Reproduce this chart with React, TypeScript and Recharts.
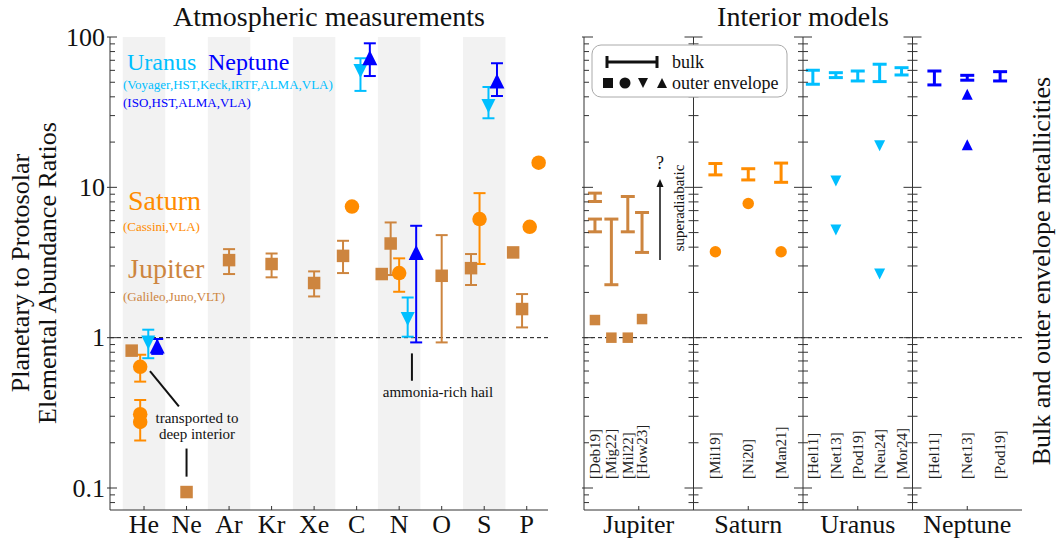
import React from 'react';
import {
  ComposedChart, Scatter, ErrorBar, XAxis, YAxis, ReferenceArea, ReferenceLine,
} from 'recharts';

const FONT = '"Liberation Serif", "Times New Roman", serif';
const JUP = '#CD853F';
const SAT = '#FF8C00';
const URA = '#00BFFF';
const NEP = '#0000FF';
const AXIS = '#333';

// ---- atmospheric measurements ----
const ELEMENTS = ['He', 'Ne', 'Ar', 'Kr', 'Xe', 'C', 'N', 'O', 'S', 'P'];
const SHADED = ['He', 'Ar', 'Xe', 'N', 'S'];

// [element, offset within the element column, value, low, high]
type Meas = [string, number, number, number?, number?];

const jupiterAtm: Meas[] = [
  ['He', -0.29, 0.82],
  ['Ne', 0, 0.094],
  ['Ar', 0, 3.28, 2.65, 3.88],
  ['Kr', 0, 3.09, 2.52, 3.63],
  ['Xe', 0, 2.31, 1.88, 2.76],
  ['C', -0.32, 3.5, 2.69, 4.41],
  ['N', -0.41, 2.65],
  ['N', -0.2, 4.23, 2.61, 5.84],
  ['O', 0, 2.58, 0.93, 4.81],
  ['S', -0.31, 2.9, 2.24, 3.6],
  ['P', -0.32, 3.69],
  ['P', -0.11, 1.55, 1.17, 1.95],
];

const saturnAtm: Meas[] = [
  ['He', -0.09, 0.64, 0.51, 0.77],
  ['He', -0.09, 0.31, 0.207, 0.385],
  ['He', -0.09, 0.275],
  ['C', -0.11, 7.45],
  ['N', 0, 2.69, 2.02, 3.37],
  ['S', -0.11, 6.15, 3.09, 9.15],
  ['P', 0.07, 5.46],
  ['P', 0.28, 14.6],
];

const uranusAtm: Meas[] = [
  ['He', 0.1, 0.93, 0.73, 1.13],
  ['C', 0.09, 59.4, 43.8, 72.2],
  ['N', 0.2, 1.33, 1.015, 1.85],
  ['S', 0.1, 34.8, 28.8, 46.5],
];

const neptuneAtm: Meas[] = [
  ['He', 0.31, 0.88, 0.78, 0.98],
  ['C', 0.31, 72.8, 55, 90.8],
  ['N', 0.4, 3.69, 0.93, 5.55],
  ['S', 0.3, 51, 40.5, 66.9],
];

// ---- interior models ----
const PLANETS = ['Jupiter', 'Saturn', 'Uranus', 'Neptune'];
const MODEL_REFS: [string, string, number][] = [
  ['Jupiter', 'Deb19', 0.1], ['Jupiter', 'Mig22', 0.25], ['Jupiter', 'Mil22', 0.4], ['Jupiter', 'How23', 0.53],
  ['Saturn', 'Mil19', 0.2], ['Saturn', 'Ni20', 0.5], ['Saturn', 'Man21', 0.8],
  ['Uranus', 'Hel11', 0.09], ['Uranus', 'Net13', 0.3], ['Uranus', 'Pod19', 0.5], ['Uranus', 'Neu24', 0.7], ['Uranus', 'Mor24', 0.9],
  ['Neptune', 'Hel11', 0.2], ['Neptune', 'Net13', 0.5], ['Neptune', 'Pod19', 0.8],
];

// bulk: [ref, low, high]   envelope: [ref, value]
const jupiterBulk: [string, number, number][] = [
  ['Deb19', 8.05, 9.15], ['Deb19', 5.06, 6.15], ['Mig22', 2.25, 6.15], ['Mil22', 5.06, 8.69], ['How23', 3.69, 6.8],
];
const jupiterEnv: [string, number][] = [['Deb19', 1.31], ['Mig22', 1.0], ['Mil22', 1.0], ['How23', 1.33]];
const saturnBulk: [string, number, number][] = [['Mil19', 12.1, 14.4], ['Ni20', 11.2, 13.3], ['Man21', 10.8, 14.5]];
const saturnEnv: [string, number][] = [['Mil19', 3.73], ['Ni20', 7.8], ['Man21', 3.73]];
const uranusBulk: [string, number, number][] = [
  ['Hel11', 48.5, 60.1], ['Net13', 53.7, 57.9], ['Pod19', 51, 59.4], ['Neu24', 50.5, 65.9], ['Mor24', 55.9, 62.5],
];
const uranusEnv: [string, number][] = [['Net13', 11.0], ['Net13', 5.2], ['Neu24', 18.9], ['Neu24', 2.65]];
const neptuneBulk: [string, number, number][] = [['Hel11', 48, 59.4], ['Net13', 51.6, 55.6], ['Pod19', 51, 58.8]];
const neptuneEnv: [string, number][] = [['Net13', 41.6], ['Net13', 19.2]];

const MAJOR_TICKS = [0.1, 1, 10, 100];
const Y_TICKS = [
  0.08, 0.09, 0.1, 0.2, 0.3, 0.4, 0.5, 0.6, 0.7, 0.8, 0.9,
  1, 2, 3, 4, 5, 6, 7, 8, 9, 10, 20, 30, 40, 50, 60, 70, 80, 90, 100,
];
const Y_DOMAIN: [number, number] = [0.0714, 100];
const REF_LABEL_Y = 0.115;

const toAtm = (rows: Meas[]) =>
  rows.map(([el, dx, v, lo, hi]) => ({
    x: ELEMENTS.indexOf(el) + dx,
    y: v,
    err: lo != null && hi != null ? [v - lo, hi - v] : null,
  }));

const refX = (planet: string, ref: string) => {
  const r = MODEL_REFS.find((m) => m[0] === planet && m[1] === ref)!;
  return PLANETS.indexOf(planet) + r[2];
};
const toBulk = (planet: string, rows: [string, number, number][]) =>
  rows.map(([ref, lo, hi]) => ({ x: refX(planet, ref), y: lo, err: [0, hi - lo] }));
const toEnv = (planet: string, rows: [string, number][]) =>
  rows.map(([ref, v]) => ({ x: refX(planet, ref), y: v }));

// ---- marker shapes ----
const square = (s: number, fill: string) => (p: any) => (
  <rect x={p.cx - s / 2} y={p.cy - s / 2} width={s} height={s} fill={fill} />
);
const dot = (d: number, fill: string) => (p: any) => <circle cx={p.cx} cy={p.cy} r={d / 2} fill={fill} />;
const triDown = (w: number, fill: string) => (p: any) => (
  <polygon points={`${p.cx - w / 2},${p.cy - w / 2} ${p.cx + w / 2},${p.cy - w / 2} ${p.cx},${p.cy + w / 2}`} fill={fill} />
);
const triUp = (w: number, fill: string) => (p: any) => (
  <polygon points={`${p.cx - w / 2},${p.cy + w / 2} ${p.cx + w / 2},${p.cy + w / 2} ${p.cx},${p.cy - w / 2}`} fill={fill} />
);
const nothing = () => <g />;

const isMajor = (v: number) => MAJOR_TICKS.some((m) => Math.abs(v - m) < 1e-9);

// ---- ticks ----
const LeftYTick = (p: any) => {
  const major = isMajor(p.payload.value);
  return (
    <g>
      <line x1={major ? p.x - 3 : p.x} x2={p.x + (major ? 7 : 5)} y1={p.y} y2={p.y} stroke={AXIS} />
      {major && (
        <text x={p.x - 5} y={p.y} textAnchor="end" dominantBaseline="central" fontSize={26} fontFamily={FONT} fill="#111">
          {p.payload.value}
        </text>
      )}
    </g>
  );
};
const RightYTick = (p: any) => {
  const major = isMajor(p.payload.value);
  return <line x1={p.x - (major ? 7 : 4)} x2={major ? p.x + 2 : p.x} y1={p.y} y2={p.y} stroke={AXIS} />;
};
const BottomXTick = (p: any) => (
  <g>
    <line x1={p.x} x2={p.x} y1={p.y - 4} y2={p.y} stroke={AXIS} />
    <text x={p.x} y={p.y + 23} textAnchor="middle" fontSize={26} fontFamily={FONT} fill="#111">
      {ELEMENTS[p.payload.value]}
    </text>
  </g>
);
const TopXTick = (p: any) => <line x1={p.x} x2={p.x} y1={p.y} y2={p.y + 4} stroke={AXIS} />;

const RIGHT_PLOT_W = 438;
const PANEL_W = RIGHT_PLOT_W / 4;
const InteriorLeftTick = (p: any) => {
  const major = isMajor(p.payload.value);
  const out = [
    <line key="e" x1={major ? p.x - 2 : p.x} x2={p.x + (major ? 9 : 5)} y1={p.y} y2={p.y} stroke={AXIS} />,
  ];
  for (let k = 1; k < 4; k++) {
    const xx = p.x + k * PANEL_W;
    out.push(<line key={k} x1={xx - (major ? 9 : 5)} x2={xx + (major ? 9 : 5)} y1={p.y} y2={p.y} stroke={AXIS} />);
  }
  return <g>{out}</g>;
};
const InteriorRightTick = (p: any) => {
  const major = isMajor(p.payload.value);
  return <line x1={p.x - (major ? 9 : 5)} x2={major ? p.x + 2 : p.x} y1={p.y} y2={p.y} stroke={AXIS} />;
};
const InteriorBottomTick = (p: any) => (
  <g>
    <line x1={p.x} x2={p.x} y1={p.y - 4} y2={p.y} stroke={AXIS} />
    <text x={p.x} y={p.y + 23} textAnchor="middle" fontSize={26} fontFamily={FONT} fill="#111">
      {PLANETS[Math.floor(p.payload.value)]}
    </text>
  </g>
);
const RefLabel = (p: any) => (
  <text
    x={p.cx}
    y={p.cy}
    transform={`rotate(-90 ${p.cx} ${p.cy})`}
    textAnchor="start"
    dominantBaseline="central"
    fontSize={15}
    fontFamily={FONT}
    fill="#222"
  >
    [{p.payload.label}]
  </text>
);

const AtmosphereChart = () => (
  <ComposedChart width={560} height={548} margin={{ top: 37, right: 12, bottom: 0, left: 0 }}>
    <XAxis xAxisId="b" type="number" dataKey="x" domain={[-0.8, 9.5]} allowDataOverflow ticks={ELEMENTS.map((_, i) => i)}
      interval={0} height={38} tickSize={0} tickMargin={0} tickLine={false} tick={<BottomXTick />} stroke={AXIS} />
    <XAxis xAxisId="t" orientation="top" type="number" dataKey="x" domain={[-0.8, 9.5]} allowDataOverflow
      ticks={ELEMENTS.map((_, i) => i)} interval={0} height={0} tickSize={0} tickMargin={0} tickLine={false} tick={<TopXTick />} stroke={AXIS} />
    <YAxis yAxisId="l" type="number" dataKey="y" scale="log" domain={Y_DOMAIN} allowDataOverflow ticks={Y_TICKS}
      interval={0} width={110} tickSize={0} tickMargin={0} tickLine={false} tick={<LeftYTick />} stroke={AXIS} />
    <YAxis yAxisId="r" orientation="right" type="number" dataKey="y" scale="log" domain={Y_DOMAIN} allowDataOverflow
      ticks={Y_TICKS} interval={0} width={0} tickSize={0} tickMargin={0} tickLine={false} tick={<RightYTick />} stroke={AXIS} />

    {SHADED.map((el) => {
      const i = ELEMENTS.indexOf(el);
      return (
        <ReferenceArea key={el} xAxisId="b" yAxisId="l" x1={i - 0.5} x2={i + 0.5} fill="#000" fillOpacity={0.05}
          stroke="none" ifOverflow="hidden" />
      );
    })}
    <ReferenceLine xAxisId="b" yAxisId="l" y={1} stroke="#111" strokeDasharray="4 3" />
    <ReferenceLine xAxisId="b" yAxisId="l" segment={[{ x: 0.14, y: 0.6 }, { x: 0.82, y: 0.349 }]} stroke="#111" strokeWidth={2} />
    <ReferenceLine xAxisId="b" yAxisId="l" segment={[{ x: 1, y: 0.183 }, { x: 1, y: 0.119 }]} stroke="#111" strokeWidth={2} />
    <ReferenceLine xAxisId="b" yAxisId="l" segment={[{ x: 6.3, y: 0.786 }, { x: 6.3, y: 0.517 }]} stroke="#111" strokeWidth={2} />

    <Scatter xAxisId="b" yAxisId="l" data={toAtm(jupiterAtm)} shape={square(12.5, JUP)} isAnimationActive={false}>
      <ErrorBar dataKey="err" direction="y" width={6} strokeWidth={2} stroke={JUP} />
    </Scatter>
    <Scatter xAxisId="b" yAxisId="l" data={toAtm(saturnAtm)} shape={dot(14.5, SAT)} isAnimationActive={false}>
      <ErrorBar dataKey="err" direction="y" width={6} strokeWidth={2} stroke={SAT} />
    </Scatter>
    <Scatter xAxisId="b" yAxisId="l" data={toAtm(uranusAtm)} shape={triDown(14, URA)} isAnimationActive={false}>
      <ErrorBar dataKey="err" direction="y" width={6} strokeWidth={2} stroke={URA} />
    </Scatter>
    <Scatter xAxisId="b" yAxisId="l" data={toAtm(neptuneAtm)} shape={triUp(15, NEP)} isAnimationActive={false}>
      <ErrorBar dataKey="err" direction="y" width={6} strokeWidth={2} stroke={NEP} />
    </Scatter>
  </ComposedChart>
);

const bulkSeries = [
  { planet: 'Jupiter', rows: jupiterBulk, color: JUP },
  { planet: 'Saturn', rows: saturnBulk, color: SAT },
  { planet: 'Uranus', rows: uranusBulk, color: URA },
  { planet: 'Neptune', rows: neptuneBulk, color: NEP },
];

const InteriorChart = () => (
  <ComposedChart width={499} height={548} margin={{ top: 37, right: 37, bottom: 0, left: 0 }}>
    <XAxis xAxisId="b" type="number" dataKey="x" domain={[0, 4]} allowDataOverflow ticks={[0.5, 1.5, 2.5, 3.5]}
      interval={0} height={38} tickSize={0} tickMargin={0} tickLine={false} tick={<InteriorBottomTick />} stroke={AXIS} />
    <XAxis xAxisId="t" orientation="top" type="number" dataKey="x" domain={[0, 4]} allowDataOverflow height={0}
      tick={false} tickLine={false} stroke={AXIS} />
    <YAxis yAxisId="l" type="number" dataKey="y" scale="log" domain={Y_DOMAIN} allowDataOverflow ticks={Y_TICKS}
      interval={0} width={24} tickSize={0} tickMargin={0} tickLine={false} tick={<InteriorLeftTick />} stroke={AXIS} />
    <YAxis yAxisId="r" orientation="right" type="number" dataKey="y" scale="log" domain={Y_DOMAIN} allowDataOverflow
      ticks={Y_TICKS} interval={0} width={0} tickSize={0} tickMargin={0} tickLine={false} tick={<InteriorRightTick />} stroke={AXIS} />

    <ReferenceLine xAxisId="b" yAxisId="l" y={1} stroke="#111" strokeDasharray="4 3" />
    {[1, 2, 3].map((d) => (
      <ReferenceLine key={d} xAxisId="b" yAxisId="l" x={d} stroke={AXIS} />
    ))}

    {bulkSeries.map((s) => (
      <Scatter key={s.planet} xAxisId="b" yAxisId="l" data={toBulk(s.planet, s.rows)} shape={nothing} isAnimationActive={false}>
        <ErrorBar dataKey="err" direction="y" width={7} strokeWidth={3} stroke={s.color} />
      </Scatter>
    ))}
    <Scatter xAxisId="b" yAxisId="l" data={toEnv('Jupiter', jupiterEnv)} shape={square(10.5, JUP)} isAnimationActive={false} />
    <Scatter xAxisId="b" yAxisId="l" data={toEnv('Saturn', saturnEnv)} shape={dot(11.5, SAT)} isAnimationActive={false} />
    <Scatter xAxisId="b" yAxisId="l" data={toEnv('Uranus', uranusEnv)} shape={triDown(11, URA)} isAnimationActive={false} />
    <Scatter xAxisId="b" yAxisId="l" data={toEnv('Neptune', neptuneEnv)} shape={triUp(11, NEP)} isAnimationActive={false} />
    <Scatter xAxisId="b" yAxisId="l"
      data={MODEL_REFS.map(([planet, ref]) => ({ x: refX(planet, ref), y: REF_LABEL_Y, label: ref }))}
      shape={RefLabel} isAnimationActive={false} />
  </ComposedChart>
);

const T = (props: any) => <text fontFamily={FONT} fill="#111" {...props} />;

const Overlay = () => (
  <svg width={1059} height={548} style={{ position: 'absolute', left: 0, top: 0, pointerEvents: 'none' }}>
    <T x={329} y={26} fontSize={28} textAnchor="middle">Atmospheric measurements</T>
    <T x={803} y={26} fontSize={28} textAnchor="middle">Interior models</T>
    <T transform="translate(29,273) rotate(-90)" fontSize={26} textAnchor="middle">Planetary to Protosolar</T>
    <T transform="translate(56,273) rotate(-90)" fontSize={26} textAnchor="middle">Elemental Abundance Ratios</T>
    <T transform="translate(1050,271) rotate(-90)" fontSize={26} textAnchor="middle">Bulk and outer envelope metallicities</T>

    <T x={127} y={70} fontSize={24} fill={URA}>Uranus</T>
    <T x={208} y={70} fontSize={24} fill={NEP}>Neptune</T>
    <T x={123} y={89} fontSize={13} fill={URA}>(Voyager,HST,Keck,IRTF,ALMA,VLA)</T>
    <T x={123} y={107} fontSize={13} fill={NEP}>(ISO,HST,ALMA,VLA)</T>
    <T x={128} y={210} fontSize={28} fill={SAT}>Saturn</T>
    <T x={123} y={231} fontSize={13} fill={SAT}>(Cassini,VLA)</T>
    <T x={128} y={278} fontSize={28} fill={JUP}>Jupiter</T>
    <T x={123} y={301} fontSize={13} fill={JUP}>(Galileo,Juno,VLT)</T>

    <T x={197} y={423} fontSize={15} textAnchor="middle">transported to</T>
    <T x={197} y={439} fontSize={15} textAnchor="middle">deep interior</T>
    <T x={438} y={397} fontSize={15} textAnchor="middle">ammonia-rich hail</T>

    {/* legend box */}
    <rect x={592} y={45} width={195} height={52} rx={9} fill="#fff" stroke="#aaa" />
    <line x1={607} x2={657} y1={62} y2={62} stroke="#111" strokeWidth={3} />
    <line x1={607} x2={607} y1={56} y2={68} stroke="#111" strokeWidth={3} />
    <line x1={657} x2={657} y1={56} y2={68} stroke="#111" strokeWidth={3} />
    <T x={672} y={68} fontSize={18}>bulk</T>
    <rect x={603} y={78} width={10} height={10} fill="#111" />
    <circle cx={625} cy={83} r={5.5} fill="#111" />
    <polygon points="638,78 648,78 643,88" fill="#111" />
    <polygon points="657,88 667,88 662,78" fill="#111" />
    <T x={672} y={89} fontSize={18}>outer envelope</T>

    {/* superadiabatic arrow */}
    <line x1={660} x2={660} y1={260} y2={186} stroke="#111" strokeWidth={1.5} />
    <polygon points="656.5,187 663.5,187 660,179" fill="#111" />
    <T x={660} y={169} fontSize={18} textAnchor="middle">?</T>
    <T transform="translate(679,208) rotate(-90)" fontSize={15} textAnchor="middle" dominantBaseline="central">superadiabatic</T>
  </svg>
);

export default function App() {
  return (
    <div style={{ position: 'absolute', left: 0, top: 0, width: 1059, height: 548, background: '#fff', fontFamily: FONT }}>
      <div style={{ position: 'absolute', left: 0, top: 0 }}>
        <AtmosphereChart />
      </div>
      <div style={{ position: 'absolute', left: 560, top: 0 }}>
        <InteriorChart />
      </div>
      <Overlay />
    </div>
  );
}
